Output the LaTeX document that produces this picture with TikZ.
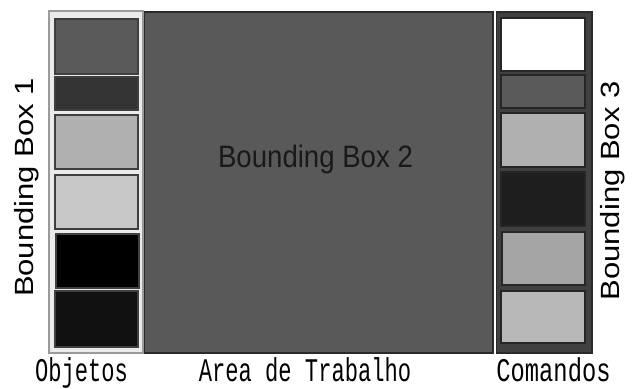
\documentclass[tikz,border=0pt]{standalone}
\usepackage{fontspec}
\setmainfont{Liberation Sans}
\newfontfamily\labmono{Liberation Mono}
\definecolor{pnlL}{HTML}{EBEBEB}
\definecolor{pnlLb}{HTML}{9A9A9A}
\definecolor{pnlM}{HTML}{595959}
\definecolor{pnlR}{HTML}{404040}
\definecolor{edge}{HTML}{2A2A2A}
\definecolor{cA}{HTML}{5A5A5A}
\definecolor{cB}{HTML}{333333}
\definecolor{cC}{HTML}{B0B0B0}
\definecolor{cD}{HTML}{C8C8C8}
\definecolor{cE}{HTML}{000000}
\definecolor{cF}{HTML}{111111}
\definecolor{cG}{HTML}{FFFFFF}
\definecolor{cH}{HTML}{1E1E1E}
\definecolor{cI}{HTML}{A5A5A5}
\definecolor{cJ}{HTML}{B8B8B8}
\newcommand{\squish}[2]{\scalebox{#1}[1]{#2}}
\begin{document}
\begin{tikzpicture}[x=1bp,y=-1bp,
  cell/.style={draw=edge!90, line width=1.2bp},
  panel/.style={draw=edge, line width=1.2bp},
  bblabel/.style={inner sep=0pt, font=\fontsize{31bp}{31bp}\selectfont},
  bottomlabel/.style={inner sep=0pt, anchor=base, font=\labmono\fontsize{33bp}{33bp}\selectfont}]
\useasboundingbox (0,0) rectangle (636,388);
% left panel
\filldraw[fill=pnlL, draw=pnlLb, line width=1.2bp] (49,11) rectangle (143,353);
\filldraw[cell, fill=cA] (55,19) rectangle (138,74);
\filldraw[cell, fill=cB] (55,77) rectangle (138,110);
\filldraw[cell, fill=cC] (55,115) rectangle (138,169);
\filldraw[cell, fill=cD] (55,175) rectangle (138,229);
\filldraw[cell, fill=cE] (56,234) rectangle (139,288);
\filldraw[cell, fill=cF] (55,291) rectangle (138,347);
% middle panel
\filldraw[panel, fill=pnlM] (144.5,12) rectangle (493,353);
% right panel
\filldraw[panel, fill=pnlR] (496.5,12) rectangle (592,353);
\filldraw[cell, draw=black!85, fill=cG] (501,18) rectangle (585,71);
\filldraw[cell, draw=black!85, fill=cA] (501,75) rectangle (585,108);
\filldraw[cell, draw=black!85, fill=cC] (501,113) rectangle (585,167);
\filldraw[cell, draw=black!85, fill=cH] (501,172) rectangle (585,226);
\filldraw[cell, draw=black!85, fill=cI] (502,232) rectangle (585,285);
\filldraw[cell, draw=black!85, fill=cJ] (501,291) rectangle (585,343);
% labels
\node[bblabel] (bb1) at (27,187.5) {\squish{0.85}{\rotatebox{90}{Bounding Box 1}}};
\node[bblabel] (bb3) at (612.5,191) {\squish{0.85}{\rotatebox{90}{Bounding Box 3}}};
\node[bblabel, anchor=base, text=black!90] (bb2) at (315.5,167) {\squish{0.89}{Bounding Box 2}};
\node[bottomlabel] (obj) at (81.5,381) {\squish{0.67}{Objetos}};
\node[bottomlabel] (area) at (305,381) {\squish{0.67}{Area de Trabalho}};
\node[bottomlabel] (cmd) at (553.5,381.5) {\squish{0.72}{Comandos}};
\end{tikzpicture}
\end{document}
